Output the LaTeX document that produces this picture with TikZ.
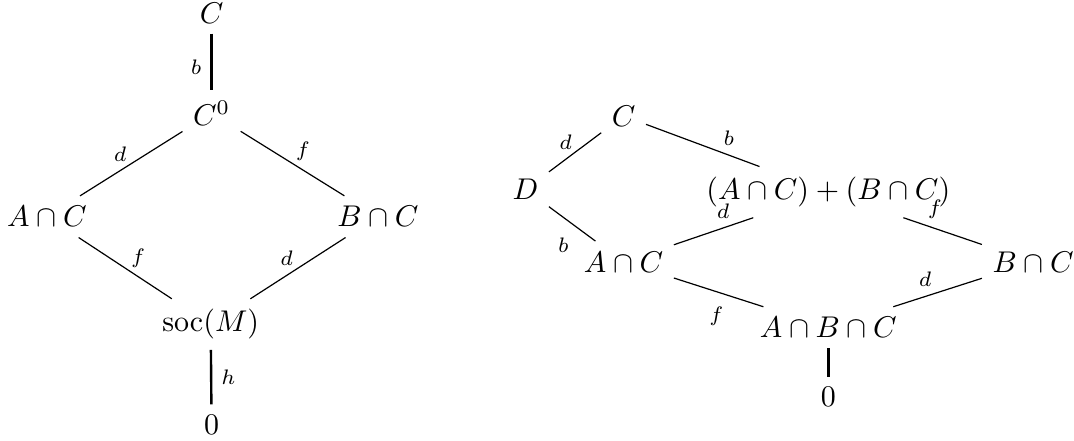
\documentclass[tikz,border=0pt]{standalone}
\usepackage{amsmath,amssymb}
\usepackage{tikz}

\begin{document}
\begin{tikzpicture}[obj/.style={anchor=base}, lbl/.style={font=\scriptsize, inner sep=3pt}, rung/.style={line width=0.8pt}]
    \useasboundingbox (0,0) rectangle (12.59,-5.16);
    % Left lattice
    \node[obj] (lc) at (2.48,-0.27) {$C$};
    \node[obj] (lc0) at (2.48,-1.47) {$C^0$};
    \node[obj] (lac) at (0.55,-2.66) {$A\cap C$};
    \node[obj] (lbc) at (4.43,-2.66) {$B\cap C$};
    \node[obj] (lsoc) at (2.47,-3.89) {$\operatorname{soc}(M)$};
    \node[obj] (lz) at (2.48,-5.09) {$0$};

    \draw[rung] (lc) -- node[lbl, left, pos=.6] {$b$} (lc0);
    \draw (lc0) -- node[lbl, above, pos=.61] {$d$} (lac);
    \draw (lc0) -- node[lbl, above, pos=.6] {$f$} (lbc);
    \draw (lac) -- node[lbl, above, pos=.64] {$f$} (lsoc);
    \draw (lbc) -- node[lbl, above, pos=.62] {$d$} (lsoc);
    \draw[rung] (lsoc) -- node[lbl, right, pos=.5] {$h$} (lz);

    % Right lattice
    \node[obj] (rc) at (7.31,-1.48) {$C$};
    \node[obj] (rd) at (6.16,-2.34) {$D$};
    \node[obj] (rsum) at (9.71,-2.34) {$(A\cap C)+(B\cap C)$};
    \node[obj] (rac) at (7.31,-3.19) {$A\cap C$};
    \node[obj] (rbc) at (12.11,-3.19) {$B\cap C$};
    \node[obj] (rabc) at (9.71,-3.96) {$A\cap B\cap C$};
    \node[obj] (rz) at (9.71,-4.77) {$0$};

    \draw (rc) -- node[lbl, above, pos=.68] {$d$} (rd);
    \draw (rc) -- node[lbl, above, pos=.73] {$b$} (rsum);
    \draw (rd) -- node[lbl, below left, pos=.63] {$b$} (rac);
    \draw (rsum) -- node[lbl, above, pos=.38] {$d$} (rac);
    \draw (rsum) -- node[lbl, above, pos=.4] {$f$} (rbc);
    \draw (rac) -- node[lbl, below left, pos=.66] {$f$} (rabc);
    \draw (rbc) -- node[lbl, above, pos=.64] {$d$} (rabc);
    \draw[rung] (rabc) -- (rz);
\end{tikzpicture}
\end{document}
